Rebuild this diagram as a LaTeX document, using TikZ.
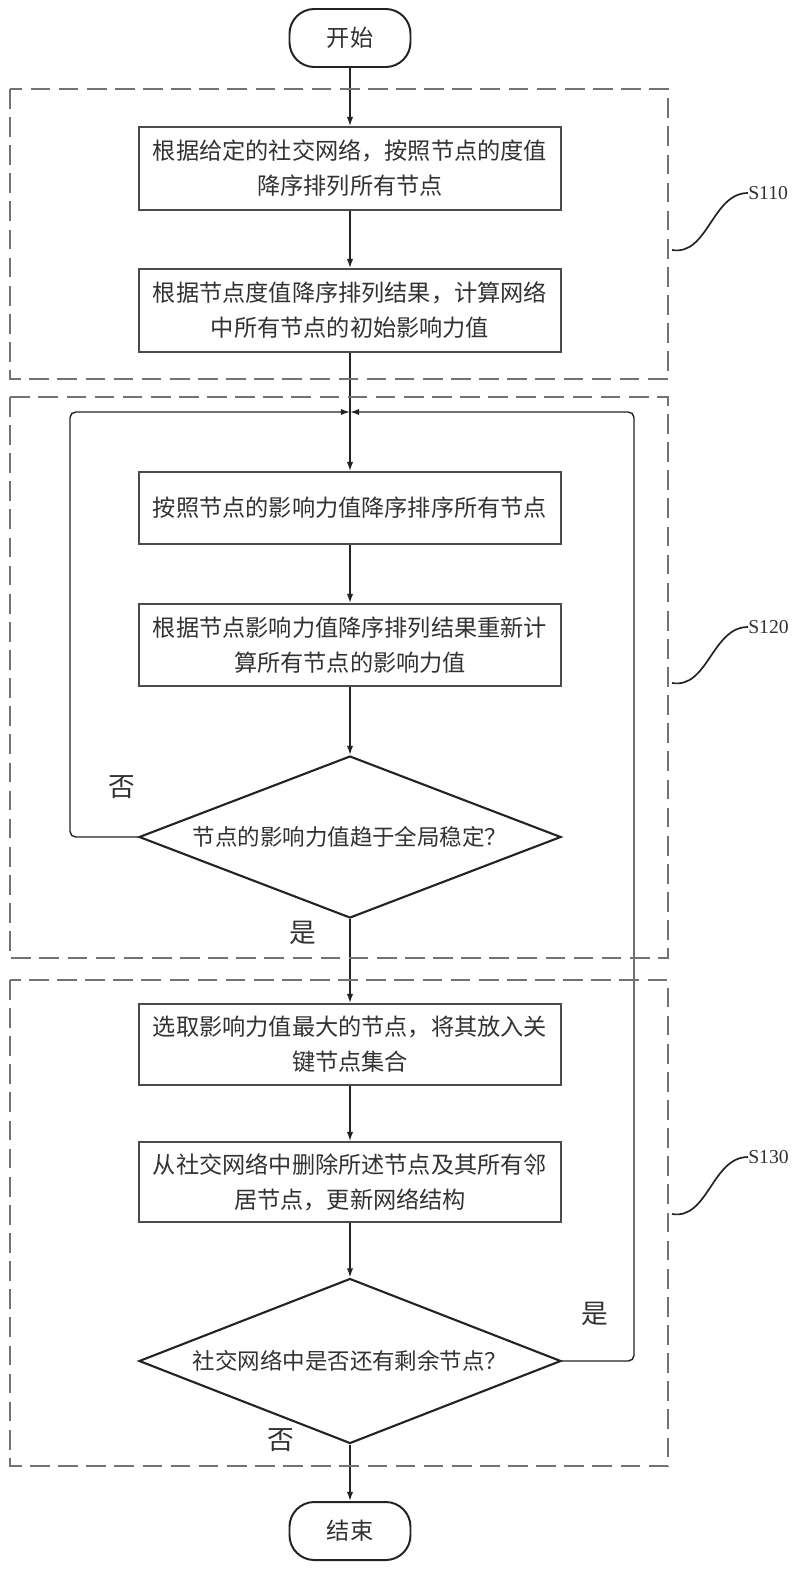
\documentclass[tikz,border=0pt]{standalone}
\usepackage{fontspec}
\setmainfont{Liberation Serif}
\newfontfamily\cjk{Noto Sans CJK SC}
\usepackage{tikz}
\usetikzlibrary{arrows.meta,shapes.geometric}
\definecolor{linegray}{RGB}{35, 35, 35}
\definecolor{boxgray}{RGB}{75, 75, 75}
\definecolor{dashgray}{RGB}{115, 115, 115}
\definecolor{textgray}{RGB}{50, 50, 50}
\tikzset{
    terminal/.style  = {draw=linegray, line width=1.4pt, rounded corners=0.62cm,
                        minimum width=3.025cm, minimum height=1.45cm, inner sep=0pt,
                        text=textgray, font=\cjk\fontsize{16.5}{25}\selectfont},
    stepbox/.style   = {draw=boxgray, line width=1.3pt, minimum width=10.55cm, inner sep=0pt,
                        align=center, text=textgray, font=\cjk\fontsize{16.5}{24.9}\selectfont},
    decision/.style  = {diamond, draw=linegray, line width=1.5pt, minimum width=10.55cm,
                        inner sep=0pt, text=textgray, font=\cjk\fontsize{16}{24}\selectfont},
    flow/.style      = {draw=linegray, line width=1pt, -{Latex[length=6.5pt,width=4.5pt]}},
    loopline/.style  = {draw=linegray, line width=1pt, rounded corners=4pt,
                        -{Latex[length=6.5pt,width=4.5pt]}},
    groupbox/.style  = {draw=dashgray, line width=1.6pt, dash pattern=on 14pt off 6pt},
    answer/.style    = {text=textgray, font=\cjk\fontsize{19}{19}\selectfont},
    steplabel/.style = {anchor=west, inner sep=0pt, text=textgray, font=\fontsize{14}{14}\selectfont},
    squiggle/.style  = {draw=linegray, line width=1.2pt}
}

\begin{document}
\begin{tikzpicture}
    \useasboundingbox (0.00, 0.00) rectangle (20.00,-39.225);
    % Steps
    \node[terminal]                         (start)  at (8.75, -0.950) {开始};
    \node[stepbox, minimum height=2.075cm]  (sort)   at (8.75, -4.213) {根据给定的社交网络，按照节点的度值\\降序排列所有节点};
    \node[stepbox, minimum height=2.075cm]  (init)   at (8.75, -7.763) {根据节点度值降序排列结果，计算网络\\中所有节点的初始影响力值};
    \node[stepbox, minimum height=1.800cm]  (resort) at (8.75,-12.700) {按照节点的影响力值降序排序所有节点};
    \node[stepbox, minimum height=2.050cm]  (recalc) at (8.75,-16.125) {根据节点影响力值降序排列结果重新计\\算所有节点的影响力值};
    \node[decision, aspect=2.605, minimum height=4.050cm] (stable) at (8.75,-20.925) {节点的影响力值趋于全局稳定？};
    \node[stepbox, minimum height=2.025cm]  (pick)   at (8.75,-26.113) {选取影响力值最大的节点，将其放入关\\键节点集合};
    \node[stepbox, minimum height=2.000cm]  (remove) at (8.75,-29.550) {从社交网络中删除所述节点及其所有邻\\居节点，更新网络结构};
    \node[decision, aspect=2.558, minimum height=4.125cm] (remain) at (8.75,-34.025) {社交网络中是否还有剩余节点？};
    \node[terminal]                         (stop)   at (8.75,-38.275) {结束};
    % Main flow
    \draw[flow] (start)  -- (sort);
    \draw[flow] (sort)   -- (init);
    \draw[flow] (init)   -- (resort);
    \draw[flow] (resort) -- (recalc);
    \draw[flow] (recalc) -- (stable);
    \draw[flow] (stable) -- (pick);
    \draw[flow] (pick)   -- (remove);
    \draw[flow] (remove) -- (remain);
    \draw[flow] (remain) -- (stop);
    % Feedback loops
    \coordinate (join)  at ( 8.75,-10.30);
    \coordinate (loopL) at ( 1.75,-10.30);
    \coordinate (loopR) at (15.85,-10.30);
    \draw[loopline] (stable.west) -| (loopL) -- (join);
    \draw[loopline] (remain.east) -| (loopR) -- (join);
    \node[answer] (no1)  at ( 3.050,-19.675) {否};
    \node[answer] (yes1) at ( 7.575,-23.325) {是};
    \node[answer] (yes2) at (14.875,-32.850) {是};
    \node[answer] (no2)  at ( 7.025,-36.000) {否};
    % Dashed groups
    \draw[groupbox] (0.25, -2.225) rectangle (16.70, -9.475);
    \draw[groupbox] (0.25, -9.925) rectangle (16.70,-23.950);
    \draw[groupbox] (0.25,-24.500) rectangle (16.70,-36.650);
    % Step labels
    \node[steplabel] (s110) at (18.70, -4.825) {S110};
    \node[steplabel] (s120) at (18.70,-15.675) {S120};
    \node[steplabel] (s130) at (18.70,-28.925) {S130};
    \coordinate (s110a) at (16.80, -6.250);
    \coordinate (s120a) at (16.80,-17.075);
    \coordinate (s130a) at (16.80,-30.350);
    \draw[squiggle] (s110a) .. controls +(0.9,-0.15) and +(-0.9,0) .. (s110.west);
    \draw[squiggle] (s120a) .. controls +(0.9,-0.15) and +(-0.9,0) .. (s120.west);
    \draw[squiggle] (s130a) .. controls +(0.9,-0.15) and +(-0.9,0) .. (s130.west);
\end{tikzpicture}
\end{document}
